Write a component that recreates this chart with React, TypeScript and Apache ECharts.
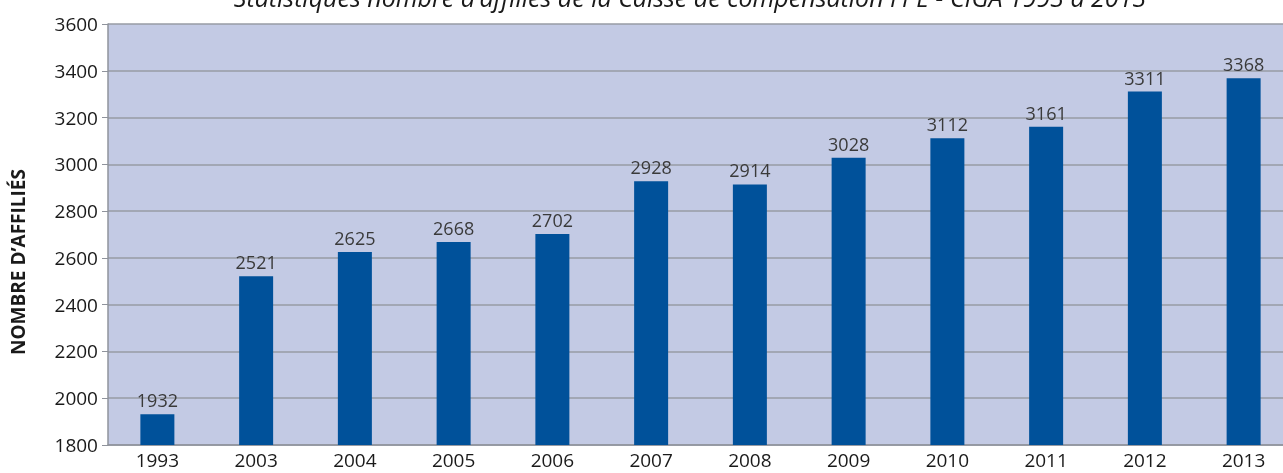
import React, { useEffect, useRef } from "react";
import * as echarts from "echarts";

const categories = ["1993", "2003", "2004", "2005", "2006", "2007", "2008", "2009", "2010", "2011", "2012", "2013"];
const affilies = [1932, 2521, 2625, 2668, 2702, 2928, 2914, 3028, 3112, 3161, 3311, 3368];
const titleText = "Statistiques nombre d\u2019affiliés de la Caisse de compensation FPE - CIGA 1993 à 2013";
const yAxisTitle = "NOMBRE D\u2019AFFILIÉS";

export default function App() {
  const ref = useRef<HTMLDivElement>(null);
  useEffect(() => {
    if (!ref.current) return;
    const chart = echarts.init(ref.current, null, { renderer: "svg" });
    const font = "'Open Sans', 'Noto Sans', sans-serif";
    chart.setOption({
      animation: false,
      textStyle: { fontFamily: font },
      grid: {
        left: 108,
        width: 1185,
        top: 24,
        bottom: 28,
        outerBoundsMode: "none",
        containLabel: false,
        show: true,
        backgroundColor: "#c3cae4",
        borderWidth: 0,
      },
      graphic: [
        {
          type: "text",
          x: 690,
          y: 9,
          style: {
            text: titleText,
            font: "italic 25px 'Open Sans', sans-serif",
            fill: "#1a1a1a",
            align: "center",
            verticalAlign: "bottom",
          },
        },
        {
          type: "text",
          x: 8,
          y: 262,
          rotation: Math.PI / 2,
          style: {
            text: yAxisTitle,
            font: "bold 19px 'Open Sans', sans-serif",
            fill: "#1a1a1a",
            align: "center",
            verticalAlign: "top",
          },
        },
      ],
      xAxis: {
        type: "category",
        data: categories,
        axisLine: { show: true, lineStyle: { color: "#8f939c", width: 1.5 } },
        axisTick: { show: false },
        axisLabel: { color: "#1a1a1a", fontSize: 19, margin: 5, fontFamily: font },
      },
      yAxis: {
        type: "value",
        min: 1800,
        max: 3600,
        interval: 200,
        axisLine: { show: true, lineStyle: { color: "#8f939c", width: 1.5 } },
        axisTick: { show: true, length: 6, lineStyle: { color: "#8f939c" } },
        axisLabel: {
          color: "#1a1a1a",
          fontSize: 19,
          margin: 10,
          fontFamily: font,
          formatter: (v: number) => String(v),
        },
        splitLine: { show: true, lineStyle: { color: "#979ba5", width: 1.5 } },
      },
      series: [
        {
          type: "bar",
          data: affilies,
          barWidth: 34,
          itemStyle: { color: "#00519a" },
          label: {
            show: true,
            position: "top",
            distance: 5,
            color: "#3a3a3a",
            fontSize: 18,
            fontFamily: font,
          },
        },
      ],
    });
    return () => chart.dispose();
  }, []);
  return <div ref={ref} style={{ position: "fixed", left: 0, top: 0, width: 1283, height: 473 }} />;
}
